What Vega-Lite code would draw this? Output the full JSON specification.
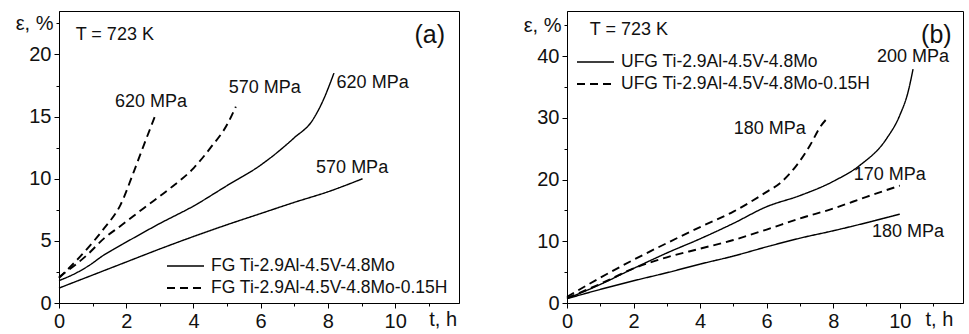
{
  "$schema": "https://vega.github.io/schema/vega-lite/v6.json",
  "padding": {"left": 14, "top": 10, "right": 5, "bottom": 4},
  "spacing": 62,
  "config": {
    "font": "Liberation Sans",
    "view": {"stroke": "black", "strokeWidth": 1},
    "axis": {"grid": false, "domainColor": "black", "tickColor": "black", "labelColor": "#111", "labelPadding": 3, "labelFlush": false, "labelOverlap": false, "labelBound": false},
    "legend": {"symbolType": "stroke", "symbolStrokeColor": "black", "symbolStrokeWidth": 1.8, "symbolSize": 1369, "clipHeight": 18, "labelFontSize": 17.5, "labelColor": "#111", "labelLimit": 400, "labelOffset": 6, "rowPadding": 4, "title": null}
  },
  "datasets": {
    "curvesA": [
      {"t": 0, "e": 1.2, "curve": "FG570", "alloy": "FG Ti-2.9Al-4.5V-4.8Mo"},
      {"t": 1, "e": 2.25, "curve": "FG570", "alloy": "FG Ti-2.9Al-4.5V-4.8Mo"},
      {"t": 2, "e": 3.3, "curve": "FG570", "alloy": "FG Ti-2.9Al-4.5V-4.8Mo"},
      {"t": 3, "e": 4.35, "curve": "FG570", "alloy": "FG Ti-2.9Al-4.5V-4.8Mo"},
      {"t": 4, "e": 5.35, "curve": "FG570", "alloy": "FG Ti-2.9Al-4.5V-4.8Mo"},
      {"t": 5, "e": 6.3, "curve": "FG570", "alloy": "FG Ti-2.9Al-4.5V-4.8Mo"},
      {"t": 6, "e": 7.2, "curve": "FG570", "alloy": "FG Ti-2.9Al-4.5V-4.8Mo"},
      {"t": 7, "e": 8.1, "curve": "FG570", "alloy": "FG Ti-2.9Al-4.5V-4.8Mo"},
      {"t": 8, "e": 8.95, "curve": "FG570", "alloy": "FG Ti-2.9Al-4.5V-4.8Mo"},
      {"t": 9.03, "e": 10.0, "curve": "FG570", "alloy": "FG Ti-2.9Al-4.5V-4.8Mo"},
      {"t": 0, "e": 1.8, "curve": "FG620", "alloy": "FG Ti-2.9Al-4.5V-4.8Mo"},
      {"t": 0.5, "e": 2.4, "curve": "FG620", "alloy": "FG Ti-2.9Al-4.5V-4.8Mo"},
      {"t": 0.94, "e": 3.1, "curve": "FG620", "alloy": "FG Ti-2.9Al-4.5V-4.8Mo"},
      {"t": 1.3, "e": 3.8, "curve": "FG620", "alloy": "FG Ti-2.9Al-4.5V-4.8Mo"},
      {"t": 1.64, "e": 4.35, "curve": "FG620", "alloy": "FG Ti-2.9Al-4.5V-4.8Mo"},
      {"t": 2, "e": 4.9, "curve": "FG620", "alloy": "FG Ti-2.9Al-4.5V-4.8Mo"},
      {"t": 3, "e": 6.4, "curve": "FG620", "alloy": "FG Ti-2.9Al-4.5V-4.8Mo"},
      {"t": 4, "e": 7.8, "curve": "FG620", "alloy": "FG Ti-2.9Al-4.5V-4.8Mo"},
      {"t": 5, "e": 9.45, "curve": "FG620", "alloy": "FG Ti-2.9Al-4.5V-4.8Mo"},
      {"t": 6, "e": 11.1, "curve": "FG620", "alloy": "FG Ti-2.9Al-4.5V-4.8Mo"},
      {"t": 7, "e": 13.3, "curve": "FG620", "alloy": "FG Ti-2.9Al-4.5V-4.8Mo"},
      {"t": 7.54, "e": 14.7, "curve": "FG620", "alloy": "FG Ti-2.9Al-4.5V-4.8Mo"},
      {"t": 7.84, "e": 16.2, "curve": "FG620", "alloy": "FG Ti-2.9Al-4.5V-4.8Mo"},
      {"t": 8.18, "e": 18.5, "curve": "FG620", "alloy": "FG Ti-2.9Al-4.5V-4.8Mo"},
      {"t": 0, "e": 2.0, "curve": "FGH620", "alloy": "FG Ti-2.9Al-4.5V-4.8Mo-0.15H"},
      {"t": 0.85, "e": 4.4, "curve": "FGH620", "alloy": "FG Ti-2.9Al-4.5V-4.8Mo-0.15H"},
      {"t": 1.34, "e": 6.0, "curve": "FGH620", "alloy": "FG Ti-2.9Al-4.5V-4.8Mo-0.15H"},
      {"t": 1.83, "e": 7.9, "curve": "FGH620", "alloy": "FG Ti-2.9Al-4.5V-4.8Mo-0.15H"},
      {"t": 2.23, "e": 10.6, "curve": "FGH620", "alloy": "FG Ti-2.9Al-4.5V-4.8Mo-0.15H"},
      {"t": 2.53, "e": 12.75, "curve": "FGH620", "alloy": "FG Ti-2.9Al-4.5V-4.8Mo-0.15H"},
      {"t": 2.88, "e": 15.2, "curve": "FGH620", "alloy": "FG Ti-2.9Al-4.5V-4.8Mo-0.15H"},
      {"t": 0, "e": 2.1, "curve": "FGH570", "alloy": "FG Ti-2.9Al-4.5V-4.8Mo-0.15H"},
      {"t": 0.85, "e": 3.9, "curve": "FGH570", "alloy": "FG Ti-2.9Al-4.5V-4.8Mo-0.15H"},
      {"t": 1.34, "e": 5.2, "curve": "FGH570", "alloy": "FG Ti-2.9Al-4.5V-4.8Mo-0.15H"},
      {"t": 1.83, "e": 6.2, "curve": "FGH570", "alloy": "FG Ti-2.9Al-4.5V-4.8Mo-0.15H"},
      {"t": 2.53, "e": 7.65, "curve": "FGH570", "alloy": "FG Ti-2.9Al-4.5V-4.8Mo-0.15H"},
      {"t": 3.32, "e": 9.26, "curve": "FGH570", "alloy": "FG Ti-2.9Al-4.5V-4.8Mo-0.15H"},
      {"t": 4.02, "e": 10.9, "curve": "FGH570", "alloy": "FG Ti-2.9Al-4.5V-4.8Mo-0.15H"},
      {"t": 4.51, "e": 12.5, "curve": "FGH570", "alloy": "FG Ti-2.9Al-4.5V-4.8Mo-0.15H"},
      {"t": 5.01, "e": 14.4, "curve": "FGH570", "alloy": "FG Ti-2.9Al-4.5V-4.8Mo-0.15H"},
      {"t": 5.26, "e": 15.8, "curve": "FGH570", "alloy": "FG Ti-2.9Al-4.5V-4.8Mo-0.15H"}
    ],
    "labelsA": [
      {"t": 2.74, "e": 16.2, "label": "620 MPa"},
      {"t": 6.12, "e": 17.3, "label": "570 MPa"},
      {"t": 9.33, "e": 17.7, "label": "620 MPa"},
      {"t": 8.72, "e": 10.9, "label": "570 MPa"},
      {"t": 1.66, "e": 21.6, "label": "T = 723 K"}
    ],
    "panelA": [
      {"t": 11.03, "e": 21.6, "label": "(a)"}
    ],
    "curvesB": [
      {"t": 0, "e": 0.7, "curve": "U180", "alloy": "UFG Ti-2.9Al-4.5V-4.8Mo"},
      {"t": 1, "e": 2.2, "curve": "U180", "alloy": "UFG Ti-2.9Al-4.5V-4.8Mo"},
      {"t": 2, "e": 3.6, "curve": "U180", "alloy": "UFG Ti-2.9Al-4.5V-4.8Mo"},
      {"t": 3, "e": 4.9, "curve": "U180", "alloy": "UFG Ti-2.9Al-4.5V-4.8Mo"},
      {"t": 4, "e": 6.3, "curve": "U180", "alloy": "UFG Ti-2.9Al-4.5V-4.8Mo"},
      {"t": 5, "e": 7.6, "curve": "U180", "alloy": "UFG Ti-2.9Al-4.5V-4.8Mo"},
      {"t": 6, "e": 9.1, "curve": "U180", "alloy": "UFG Ti-2.9Al-4.5V-4.8Mo"},
      {"t": 7, "e": 10.5, "curve": "U180", "alloy": "UFG Ti-2.9Al-4.5V-4.8Mo"},
      {"t": 8, "e": 11.7, "curve": "U180", "alloy": "UFG Ti-2.9Al-4.5V-4.8Mo"},
      {"t": 9, "e": 13.0, "curve": "U180", "alloy": "UFG Ti-2.9Al-4.5V-4.8Mo"},
      {"t": 10, "e": 14.4, "curve": "U180", "alloy": "UFG Ti-2.9Al-4.5V-4.8Mo"},
      {"t": 0, "e": 0.7, "curve": "U200", "alloy": "UFG Ti-2.9Al-4.5V-4.8Mo"},
      {"t": 1, "e": 3.0, "curve": "U200", "alloy": "UFG Ti-2.9Al-4.5V-4.8Mo"},
      {"t": 2, "e": 5.6, "curve": "U200", "alloy": "UFG Ti-2.9Al-4.5V-4.8Mo"},
      {"t": 3, "e": 8.1, "curve": "U200", "alloy": "UFG Ti-2.9Al-4.5V-4.8Mo"},
      {"t": 4, "e": 10.4, "curve": "U200", "alloy": "UFG Ti-2.9Al-4.5V-4.8Mo"},
      {"t": 5, "e": 12.9, "curve": "U200", "alloy": "UFG Ti-2.9Al-4.5V-4.8Mo"},
      {"t": 6, "e": 15.6, "curve": "U200", "alloy": "UFG Ti-2.9Al-4.5V-4.8Mo"},
      {"t": 7, "e": 17.4, "curve": "U200", "alloy": "UFG Ti-2.9Al-4.5V-4.8Mo"},
      {"t": 8, "e": 19.7, "curve": "U200", "alloy": "UFG Ti-2.9Al-4.5V-4.8Mo"},
      {"t": 8.8, "e": 22.3, "curve": "U200", "alloy": "UFG Ti-2.9Al-4.5V-4.8Mo"},
      {"t": 9.6, "e": 26.6, "curve": "U200", "alloy": "UFG Ti-2.9Al-4.5V-4.8Mo"},
      {"t": 10, "e": 30.4, "curve": "U200", "alloy": "UFG Ti-2.9Al-4.5V-4.8Mo"},
      {"t": 10.25, "e": 34.2, "curve": "U200", "alloy": "UFG Ti-2.9Al-4.5V-4.8Mo"},
      {"t": 10.4, "e": 37.9, "curve": "U200", "alloy": "UFG Ti-2.9Al-4.5V-4.8Mo"},
      {"t": 0, "e": 1.0, "curve": "UH180", "alloy": "UFG Ti-2.9Al-4.5V-4.8Mo-0.15H"},
      {"t": 1, "e": 4.1, "curve": "UH180", "alloy": "UFG Ti-2.9Al-4.5V-4.8Mo-0.15H"},
      {"t": 2, "e": 7.0, "curve": "UH180", "alloy": "UFG Ti-2.9Al-4.5V-4.8Mo-0.15H"},
      {"t": 3, "e": 9.7, "curve": "UH180", "alloy": "UFG Ti-2.9Al-4.5V-4.8Mo-0.15H"},
      {"t": 4, "e": 12.3, "curve": "UH180", "alloy": "UFG Ti-2.9Al-4.5V-4.8Mo-0.15H"},
      {"t": 5, "e": 14.8, "curve": "UH180", "alloy": "UFG Ti-2.9Al-4.5V-4.8Mo-0.15H"},
      {"t": 6, "e": 18.0, "curve": "UH180", "alloy": "UFG Ti-2.9Al-4.5V-4.8Mo-0.15H"},
      {"t": 6.4, "e": 19.4, "curve": "UH180", "alloy": "UFG Ti-2.9Al-4.5V-4.8Mo-0.15H"},
      {"t": 6.9, "e": 22.3, "curve": "UH180", "alloy": "UFG Ti-2.9Al-4.5V-4.8Mo-0.15H"},
      {"t": 7.3, "e": 25.5, "curve": "UH180", "alloy": "UFG Ti-2.9Al-4.5V-4.8Mo-0.15H"},
      {"t": 7.62, "e": 28.6, "curve": "UH180", "alloy": "UFG Ti-2.9Al-4.5V-4.8Mo-0.15H"},
      {"t": 7.85, "e": 30.1, "curve": "UH180", "alloy": "UFG Ti-2.9Al-4.5V-4.8Mo-0.15H"},
      {"t": 0, "e": 0.8, "curve": "UH170", "alloy": "UFG Ti-2.9Al-4.5V-4.8Mo-0.15H"},
      {"t": 1, "e": 3.1, "curve": "UH170", "alloy": "UFG Ti-2.9Al-4.5V-4.8Mo-0.15H"},
      {"t": 2, "e": 5.6, "curve": "UH170", "alloy": "UFG Ti-2.9Al-4.5V-4.8Mo-0.15H"},
      {"t": 3, "e": 7.4, "curve": "UH170", "alloy": "UFG Ti-2.9Al-4.5V-4.8Mo-0.15H"},
      {"t": 4, "e": 8.8, "curve": "UH170", "alloy": "UFG Ti-2.9Al-4.5V-4.8Mo-0.15H"},
      {"t": 5, "e": 10.2, "curve": "UH170", "alloy": "UFG Ti-2.9Al-4.5V-4.8Mo-0.15H"},
      {"t": 6, "e": 11.9, "curve": "UH170", "alloy": "UFG Ti-2.9Al-4.5V-4.8Mo-0.15H"},
      {"t": 7, "e": 13.7, "curve": "UH170", "alloy": "UFG Ti-2.9Al-4.5V-4.8Mo-0.15H"},
      {"t": 8, "e": 15.3, "curve": "UH170", "alloy": "UFG Ti-2.9Al-4.5V-4.8Mo-0.15H"},
      {"t": 9, "e": 17.2, "curve": "UH170", "alloy": "UFG Ti-2.9Al-4.5V-4.8Mo-0.15H"},
      {"t": 10, "e": 19.0, "curve": "UH170", "alloy": "UFG Ti-2.9Al-4.5V-4.8Mo-0.15H"}
    ],
    "labelsB": [
      {"t": 10.4, "e": 39.8, "label": "200 MPa"},
      {"t": 6.09, "e": 28.2, "label": "180 MPa"},
      {"t": 9.7, "e": 20.8, "label": "170 MPa"},
      {"t": 10.25, "e": 11.5, "label": "180 MPa"},
      {"t": 1.86, "e": 44.2, "label": "T = 723 K"}
    ],
    "panelB": [
      {"t": 11.1, "e": 43.4, "label": "(b)"}
    ]
  },
  "hconcat": [
    {
      "width": 400,
      "height": 292,
      "encoding": {
        "x": {"field": "t", "type": "quantitative", "scale": {"domain": [0, 11.9], "nice": false},
          "axis": {"title": null, "values": [0, 1, 2, 3, 4, 5, 6, 7, 8, 9, 10, 11], "labelFontSize": 20,
            "labelExpr": "datum.value == 11 ? 't, h' : (datum.value % 2 == 0 ? '' + datum.value : '')",
            "labelAlign": {"condition": {"test": "datum.value == 11", "value": "left"}, "value": "center"},
            "tickSize": {"condition": {"test": "datum.value % 2 == 0", "value": 5}, "value": 3}}},
        "y": {"field": "e", "type": "quantitative", "scale": {"domain": [0, 23.5], "nice": false},
          "axis": {"title": null, "values": [0, 2.5, 5, 7.5, 10, 12.5, 15, 17.5, 20, 22.5], "labelFontSize": 20,
            "labelExpr": "datum.value == 22.5 ? 'ε, %' : (datum.value % 5 == 0 ? '' + datum.value : '')",
            "tickSize": {"condition": {"test": "datum.value % 5 == 0", "value": 5}, "value": 3}}}
      },
      "layer": [
        {
          "data": {"name": "curvesA"},
          "mark": {"type": "line", "interpolate": "monotone", "color": "black"},
          "encoding": {
            "strokeDash": {"field": "alloy", "type": "nominal",
              "scale": {"domain": ["FG Ti-2.9Al-4.5V-4.8Mo", "FG Ti-2.9Al-4.5V-4.8Mo-0.15H"], "range": [[1, 0], [8, 5]]},
              "legend": {"orient": "none", "legendX": 107, "legendY": 246}},
            "strokeWidth": {"field": "alloy", "type": "nominal",
              "scale": {"domain": ["FG Ti-2.9Al-4.5V-4.8Mo", "FG Ti-2.9Al-4.5V-4.8Mo-0.15H"], "range": [1.4, 1.9]},
              "legend": null},
            "detail": {"field": "curve", "type": "nominal"}
          }
        },
        {
          "data": {"name": "labelsA"},
          "mark": {"type": "text", "fontSize": 18, "color": "#111"},
          "encoding": {"text": {"field": "label", "type": "nominal"}}
        },
        {
          "data": {"name": "panelA"},
          "mark": {"type": "text", "fontSize": 25, "color": "#111"},
          "encoding": {"text": {"field": "label", "type": "nominal"}}
        }
      ]
    },
    {
      "width": 396,
      "height": 292,
      "encoding": {
        "x": {"field": "t", "type": "quantitative", "scale": {"domain": [0, 11.9], "nice": false},
          "axis": {"title": null, "values": [0, 1, 2, 3, 4, 5, 6, 7, 8, 9, 10, 11], "labelFontSize": 20,
            "labelExpr": "datum.value == 11 ? 't, h' : (datum.value % 2 == 0 ? '' + datum.value : '')",
            "labelAlign": {"condition": {"test": "datum.value == 11", "value": "left"}, "value": "center"},
            "labelOffset": {"condition": {"test": "datum.value == 11", "value": -8}, "value": 0},
            "tickSize": {"condition": {"test": "datum.value % 2 == 0", "value": 5}, "value": 3}}},
        "y": {"field": "e", "type": "quantitative", "scale": {"domain": [0, 47.3], "nice": false},
          "axis": {"title": null, "values": [0, 5, 10, 15, 20, 25, 30, 35, 40, 45], "labelFontSize": 20,
            "labelExpr": "datum.value == 45 ? 'ε, %' : (datum.value % 10 == 0 ? '' + datum.value : '')",
            "tickSize": {"condition": {"test": "datum.value % 10 == 0", "value": 5}, "value": 3}}}
      },
      "layer": [
        {
          "data": {"name": "curvesB"},
          "mark": {"type": "line", "interpolate": "monotone", "color": "black"},
          "encoding": {
            "strokeDash": {"field": "alloy", "type": "nominal",
              "scale": {"domain": ["UFG Ti-2.9Al-4.5V-4.8Mo", "UFG Ti-2.9Al-4.5V-4.8Mo-0.15H"], "range": [[1, 0], [8, 5]]},
              "legend": {"orient": "none", "legendX": 9, "legendY": 42}},
            "strokeWidth": {"field": "alloy", "type": "nominal",
              "scale": {"domain": ["UFG Ti-2.9Al-4.5V-4.8Mo", "UFG Ti-2.9Al-4.5V-4.8Mo-0.15H"], "range": [1.4, 1.9]},
              "legend": null},
            "detail": {"field": "curve", "type": "nominal"}
          }
        },
        {
          "data": {"name": "labelsB"},
          "mark": {"type": "text", "fontSize": 18, "color": "#111"},
          "encoding": {"text": {"field": "label", "type": "nominal"}}
        },
        {
          "data": {"name": "panelB"},
          "mark": {"type": "text", "fontSize": 25, "color": "#111"},
          "encoding": {"text": {"field": "label", "type": "nominal"}}
        }
      ]
    }
  ],
  "resolve": {"scale": {"strokeDash": "independent", "strokeWidth": "independent"}, "legend": {"strokeDash": "independent"}}
}
